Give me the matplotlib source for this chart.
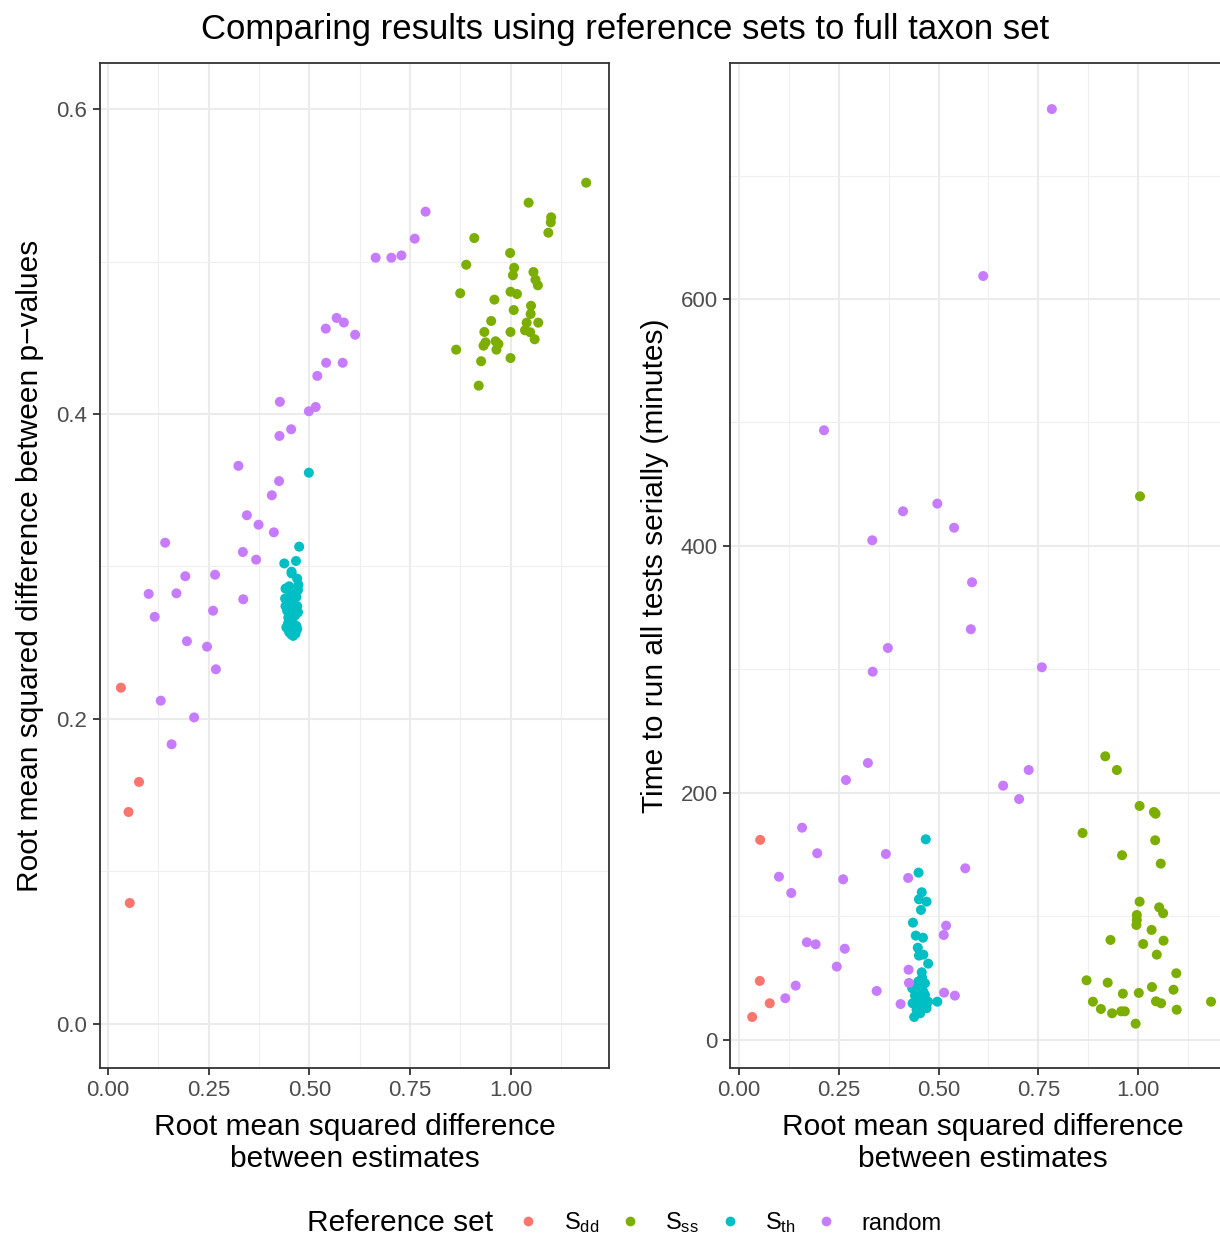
import matplotlib
matplotlib.use("Agg")
import matplotlib.pyplot as plt
from matplotlib.lines import Line2D
from matplotlib.ticker import MultipleLocator, FormatStrFormatter

plt.rcParams['font.family'] = ['Liberation Sans', 'DejaVu Sans']
plt.rcParams['mathtext.fontset'] = 'custom'
plt.rcParams['mathtext.rm'] = 'Liberation Sans'
plt.rcParams['mathtext.it'] = 'Liberation Sans'

# ---------------- data: left panel (RMSD estimates vs RMSD p-values) ----------------
sdd_x_p = [0.032, 0.077, 0.051, 0.054]
sdd_pval = [0.2205, 0.1587, 0.139, 0.0793]

sss_x_p = [1.188, 1.045, 1.101, 1.100, 1.094, 0.910, 0.999, 0.890, 1.009, 1.006,
           1.057, 1.062, 1.068, 0.875, 1.000, 1.016, 0.960, 1.051, 1.008, 1.050,
           0.952, 1.040, 1.069, 0.935, 1.000, 1.036, 1.049, 1.060, 0.938, 0.963,
           0.970, 0.933, 0.865, 0.965, 0.927, 1.000, 0.921]
sss_pval = [0.5517, 0.5386, 0.529, 0.5257, 0.5189, 0.5154, 0.5056, 0.4979, 0.4959, 0.4910,
            0.4931, 0.4881, 0.4844, 0.4792, 0.4802, 0.4787, 0.4750, 0.4710, 0.4682, 0.4656,
            0.4610, 0.4599, 0.4599, 0.4538, 0.4538, 0.4549, 0.4536, 0.4490, 0.4470, 0.4477,
            0.4459, 0.4448, 0.4422, 0.4422, 0.4346, 0.4367, 0.4186]

sth_x_p = [0.499, 0.475, 0.467, 0.438, 0.456, 0.456, 0.473, 0.470, 0.441, 0.450,
           0.465, 0.472, 0.440, 0.452, 0.468, 0.441, 0.456, 0.470, 0.445, 0.462,
           0.448, 0.465, 0.472, 0.447, 0.458, 0.468, 0.443, 0.452, 0.462, 0.470,
           0.455, 0.460, 0.450, 0.466, 0.458]
sth_pval = [0.3615, 0.313, 0.3036, 0.302, 0.2966, 0.2955, 0.288, 0.292, 0.2855, 0.2870,
            0.2820, 0.2845, 0.2790, 0.2810, 0.2800, 0.2740, 0.2760, 0.2740, 0.2710, 0.2720,
            0.2665, 0.2680, 0.2700, 0.2625, 0.2640, 0.2610, 0.2600, 0.2585, 0.2575, 0.2590,
            0.2555, 0.2545, 0.2570, 0.2560, 0.2600]

rnd_x_p = [0.789, 0.762, 0.665, 0.704, 0.729, 0.568, 0.586, 0.541, 0.614, 0.542,
           0.583, 0.520, 0.427, 0.516, 0.499, 0.455, 0.426, 0.324, 0.425, 0.407,
           0.345, 0.374, 0.412, 0.142, 0.335, 0.368, 0.192, 0.266, 0.101, 0.170,
           0.116, 0.336, 0.261, 0.196, 0.246, 0.268, 0.131, 0.214, 0.158]
rnd_pval = [0.5327, 0.515, 0.5025, 0.5025, 0.504, 0.463, 0.460, 0.456, 0.452, 0.4336,
            0.4336, 0.425, 0.408, 0.4046, 0.4018, 0.390, 0.3856, 0.366, 0.356, 0.3467,
            0.3336, 0.3274, 0.3224, 0.3156, 0.3095, 0.3045, 0.2936, 0.2946, 0.282, 0.2824,
            0.267, 0.2785, 0.271, 0.251, 0.2474, 0.2326, 0.212, 0.201, 0.1834]

# ---------------- data: right panel (RMSD estimates vs run time) ----------------
sdd_x_t = [0.053, 0.052, 0.077, 0.033]
sdd_time = [162, 47.8, 29.7, 18.6]

sss_x_t = [1.005, 0.918, 0.947, 1.004, 1.040, 1.044, 0.861, 1.043, 0.960, 1.057,
           1.004, 1.053, 1.063, 0.997, 0.997, 0.996, 1.034, 0.931, 1.013, 1.064,
           1.047, 1.096, 0.871, 0.924, 1.035, 1.089, 0.962, 1.002, 0.887, 1.045,
           1.058, 1.183, 0.907, 1.097, 0.935, 0.958, 0.967, 0.994]
sss_time = [440.2, 229.7, 218.6, 189.5, 184.6, 183.2, 167.6, 161.7, 149.6, 142.8,
            112.0, 107.4, 102.6, 101.2, 97.2, 93.1, 89.1, 81.0, 77.7, 80.4,
            69.1, 54.0, 48.3, 46.4, 42.9, 40.7, 37.5, 38.1, 31.0, 31.3,
            29.7, 31.0, 25.1, 24.5, 21.6, 23.2, 23.2, 13.2]

sth_x_t = [0.468, 0.450, 0.458, 0.451, 0.470, 0.456, 0.436, 0.443, 0.461, 0.448,
           0.451, 0.462, 0.474, 0.458, 0.459, 0.466, 0.434, 0.449, 0.466, 0.497,
           0.435, 0.458, 0.470, 0.454, 0.439, 0.449, 0.462, 0.445, 0.474, 0.452,
           0.463, 0.441, 0.456, 0.468, 0.447]
sth_time = [162.5, 135.5, 119.6, 113.9, 112.0, 105.3, 95.0, 84.5, 82.8, 74.7,
            68.3, 69.1, 61.8, 54.8, 50.4, 45.9, 41.9, 47.2, 36.4, 31.0,
            29.7, 29.7, 25.7, 21.6, 18.6, 33.8, 39.1, 24.3, 31.0, 28.0,
            35.0, 36.0, 42.0, 27.0, 31.0]

rnd_x_t = [0.784, 0.612, 0.213, 0.497, 0.411, 0.539, 0.334, 0.584, 0.581, 0.373,
           0.335, 0.759, 0.323, 0.268, 0.726, 0.662, 0.702, 0.158, 0.196, 0.368,
           0.567, 0.100, 0.261, 0.424, 0.131, 0.519, 0.513, 0.170, 0.192, 0.265,
           0.245, 0.425, 0.426, 0.142, 0.116, 0.345, 0.514, 0.541, 0.405]
rnd_time = [753.8, 618.6, 493.7, 434.3, 428.1, 414.8, 404.6, 370.6, 332.6, 317.4,
            298.2, 301.8, 224.3, 210.5, 218.6, 205.9, 195.1, 171.9, 151.2, 150.6,
            139.0, 132.2, 130.1, 131.2, 119.0, 92.6, 85.0, 79.1, 77.5, 73.9,
            59.4, 56.9, 46.2, 44.0, 33.8, 39.7, 38.3, 35.9, 29.1]

group_labels = [r'$\mathregular{S_{dd}}$', r'$\mathregular{S_{ss}}$',
                r'$\mathregular{S_{th}}$', 'random']
group_colors = ['#F8766D', '#7CAE00', '#00BFC4', '#C77CFF']

title_text = "Comparing results using reference sets to full taxon set"
xlabel_text = "Root mean squared difference\nbetween estimates"
ylabel_left = "Root mean squared difference between p\u2212values"
ylabel_right = "Time to run all tests serially (minutes)"
legend_title = "Reference set"

# ---------------- figure ----------------
W, H = 1220, 1236
fig = plt.figure(figsize=(W / 100, H / 100), dpi=100)

def ax_rect(x0, y0, x1, y1):
    return [x0 / W, 1 - y1 / H, (x1 - x0) / W, (y1 - y0) / H]

axL = fig.add_axes(ax_rect(100, 63, 609, 1068))
axR = fig.add_axes(ax_rect(730, 63, 1236, 1068))

left_sets = [(sdd_x_p, sdd_pval), (sss_x_p, sss_pval), (sth_x_p, sth_pval), (rnd_x_p, rnd_pval)]
right_sets = [(sdd_x_t, sdd_time), (sss_x_t, sss_time), (sth_x_t, sth_time), (rnd_x_t, rnd_time)]

PT_SIZE = 52
for ax, sets in ((axL, left_sets), (axR, right_sets)):
    for (xs, ys), c in zip(sets, group_colors):
        ax.scatter(xs, ys, s=PT_SIZE, color=c, edgecolors='none', zorder=3)

axL.set_xlim(-0.0199, 1.2447)
axL.set_ylim(-0.0289, 0.6302)
axR.set_xlim(-0.0226, 1.2456)
axR.set_ylim(-22.7, 791.1)

for ax in (axL, axR):
    ax.set_facecolor('white')
    ax.xaxis.set_major_locator(MultipleLocator(0.25))
    ax.xaxis.set_minor_locator(MultipleLocator(0.125))
    ax.xaxis.set_major_formatter(FormatStrFormatter('%.2f'))
    ax.grid(which='major', color='#EBEBEB', linewidth=1.5, zorder=0)
    ax.grid(which='minor', color='#EFEFEF', linewidth=0.8, zorder=0)
    ax.set_axisbelow(True)
    for sp in ax.spines.values():
        sp.set_color('#333333')
        sp.set_linewidth(1.3)
    ax.tick_params(which='major', length=5, width=1.3, color='#333333',
                   labelcolor='#4D4D4D', labelsize=16, pad=4)
    ax.tick_params(which='minor', length=0)
    ax.set_xlabel(xlabel_text, fontsize=21.5, color='black', labelpad=8, linespacing=1.2)

axL.yaxis.set_major_locator(MultipleLocator(0.2))
axL.yaxis.set_minor_locator(MultipleLocator(0.1))
axL.yaxis.set_major_formatter(FormatStrFormatter('%.1f'))
axR.yaxis.set_major_locator(MultipleLocator(200))
axR.yaxis.set_minor_locator(MultipleLocator(100))
axR.yaxis.set_major_formatter(FormatStrFormatter('%d'))
axR.spines['right'].set_visible(False)

axL.set_ylabel(ylabel_left, fontsize=21.5, labelpad=9)
axR.set_ylabel(ylabel_right, fontsize=21.5, labelpad=8)

fig.text(625 / W, 1 - 30 / H, title_text, ha='center', va='center', fontsize=25)

# legend
fig.text(307 / W, 1 - 1223 / H, legend_title, ha='left', va='center', fontsize=21.5)
handles = [Line2D([], [], linestyle='none', marker='o', markersize=7,
                  markerfacecolor=c, markeredgecolor='none') for c in group_colors]
fig.legend(handles, group_labels, loc='center left',
           bbox_to_anchor=(514 / W, 1 - 1223 / H), ncol=4, frameon=False,
           fontsize=17, handlelength=1.2, handletextpad=0.9, columnspacing=0.7,
           borderaxespad=0, borderpad=0)

fig.savefig('out.png', dpi=100, facecolor='white')
